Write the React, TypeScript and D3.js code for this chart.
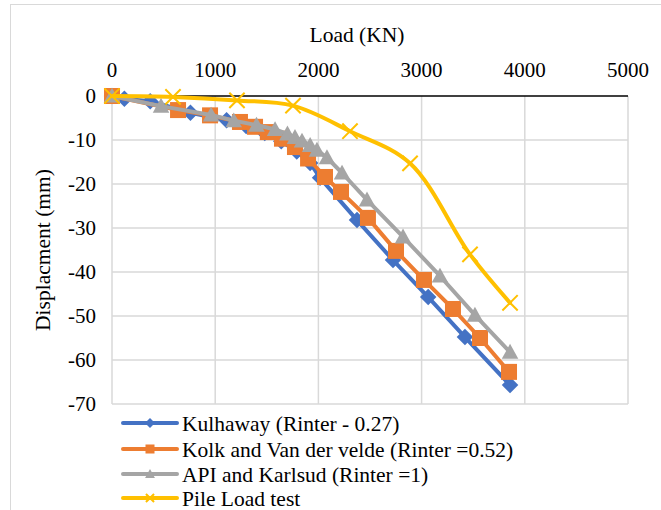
import React from 'react';
import * as d3 from 'd3';

// load (kN), displacement (mm)
const kulhaway: [number, number][] = [
  [0, 0], [120, -0.6], [370, -1.2], [760, -3.8], [1110, -5.5], [1300, -6.8], [1480, -8.4],
  [1640, -10.3], [1790, -12.6], [1920, -15.2], [2016, -18.6], [2374, -28.2], [2723, -37.3],
  [3064, -45.7], [3420, -54.8], [3857, -65.7],
];
const kolk: [number, number][] = [
  [0, 0], [640, -3.2], [950, -4.4], [1240, -5.9], [1386, -7], [1510, -8.2], [1647, -9.7],
  [1773, -11.6], [1900, -14.2], [2064, -18.4], [2219, -21.8], [2480, -27.7], [2752, -35.2],
  [3023, -41.8], [3304, -48.4], [3566, -55], [3847, -62.7],
];
const api: [number, number][] = [
  [0, 0], [475, -2.3], [960, -4.3], [1180, -5.6], [1400, -6.6], [1580, -7.6], [1700, -8.6],
  [1773, -9.4], [1841, -10.2], [1920, -11.2], [1986, -12.3], [2083, -14], [2229, -17.5],
  [2471, -23.6], [2820, -32], [3178, -40.9], [3517, -49.8], [3857, -58.2],
];
const pileTest: [number, number][] = [
  [0, 0], [591, -0.2], [1211, -1], [1754, -2.2], [2306, -8], [2888, -15.3], [3469, -36], [3857, -47],
];

const xTicks = [0, 1000, 2000, 3000, 4000, 5000];
const yTicks = [0, -10, -20, -30, -40, -50, -60, -70];

const series = [
  { name: 'Kulhaway (Rinter - 0.27)', data: kulhaway, color: '#4472C4', marker: 'diamond', smooth: false },
  { name: 'Kolk and Van der velde (Rinter =0.52)', data: kolk, color: '#ED7D31', marker: 'square', smooth: false },
  { name: 'API and Karlsud (Rinter =1)', data: api, color: '#A5A5A5', marker: 'triangle', smooth: false },
  { name: 'Pile Load test', data: pileTest, color: '#FFC000', marker: 'cross', smooth: true },
];

const W = 661;
const H = 510;
const txt = { fontFamily: "'Liberation Serif', 'Times New Roman', serif" };

function Marker({ type, x, y, color, s }: { type: string; x: number; y: number; color: string; s: number }) {
  if (type === 'diamond') {
    const r = s * 0.55;
    return <path d={`M${x},${y - r}L${x + r},${y}L${x},${y + r}L${x - r},${y}Z`} fill={color} />;
  }
  if (type === 'square') {
    const r = s * 0.5;
    return <rect x={x - r} y={y - r} width={2 * r} height={2 * r} fill={color} />;
  }
  if (type === 'triangle') {
    const r = s * 0.55;
    return <path d={`M${x},${y - r}L${x + r},${y + r * 0.8}L${x - r},${y + r * 0.8}Z`} fill={color} />;
  }
  const r = s * 0.45;
  return (
    <path d={`M${x - r},${y - r}L${x + r},${y + r}M${x - r},${y + r}L${x + r},${y - r}`}
      stroke={color} strokeWidth={2} fill="none" />
  );
}

export default function App() {
  const x = d3.scaleLinear().domain([0, 5000]).range([112, 628]);
  const y = d3.scaleLinear().domain([0, -70]).range([96, 404]);

  const straight = d3.line<[number, number]>().x(d => x(d[0])).y(d => y(d[1]));
  const smooth = d3.line<[number, number]>().x(d => x(d[0])).y(d => y(d[1])).curve(d3.curveCatmullRom.alpha(0.5));

  const sizes: Record<string, number> = { diamond: 15, square: 16, triangle: 15, cross: 17 };
  const legendY = [423, 449, 474, 498];

  return (
    <svg width={W} height={H} style={{ position: 'absolute', left: 0, top: 0, display: 'block', background: '#fff' }}>
      <rect x={10.5} y={4.5} width={W + 20} height={H + 20} fill="#fff" stroke="#d9d9d9" strokeWidth={1} />

      {/* grid */}
      {yTicks.filter(t => t !== 0).map(t => (
        <line key={'gy' + t} x1={x(0)} x2={x(5000)} y1={y(t)} y2={y(t)} stroke="#d9d9d9" strokeWidth={1.5} />
      ))}
      {xTicks.map(t => (
        <line key={'gx' + t} x1={x(t)} x2={x(t)} y1={y(0)} y2={y(-70)} stroke="#d9d9d9" strokeWidth={1.5} />
      ))}
      <line x1={x(0)} x2={x(5000)} y1={y(0)} y2={y(0)} stroke="#000" strokeWidth={1.5} />

      {/* ticks */}
      {xTicks.map(t => (
        <text key={'tx' + t} x={x(t)} y={77} textAnchor="middle" fontSize={21} fill="#000" style={txt}>{t}</text>
      ))}
      {yTicks.map(t => (
        <text key={'ty' + t} x={96} y={y(t)} dy="0.35em" textAnchor="end" fontSize={21} fill="#000" style={txt}>{t}</text>
      ))}

      <text x={357} y={42} textAnchor="middle" fontSize={21.5} fill="#000" style={txt}>Load (KN)</text>
      <text transform={`translate(50,250) rotate(-90)`} textAnchor="middle" fontSize={21.5} fill="#000" style={txt}>Displacment (mm)</text>

      {/* series */}
      {series.map(s => (
        <g key={s.name}>
          <path d={(s.smooth ? smooth : straight)(s.data) || ''} fill="none" stroke={s.color} strokeWidth={4}
            strokeLinejoin="round" strokeLinecap="round" />
          {s.data.map((d, i) => (
            <Marker key={i} type={s.marker} x={x(d[0])} y={y(d[1])} color={s.color} s={sizes[s.marker]} />
          ))}
        </g>
      ))}

      {/* legend */}
      {series.map((s, i) => (
        <g key={'lg' + s.name}>
          <line x1={123} x2={177} y1={legendY[i]} y2={legendY[i]} stroke={s.color} strokeWidth={4} strokeLinecap="round" />
          <Marker type={s.marker} x={150} y={legendY[i]} color={s.color} s={9} />
          <text x={182} y={legendY[i]} dy="0.35em" fontSize={21.5} fill="#000" style={txt}>{s.name}</text>
        </g>
      ))}
    </svg>
  );
}
